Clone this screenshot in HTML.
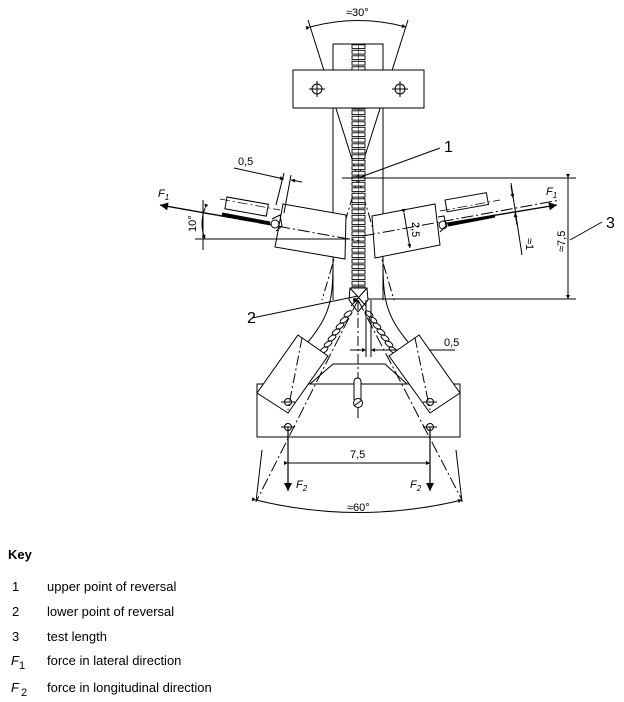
<!DOCTYPE html>
<html><head><meta charset="utf-8"><style>
html,body{margin:0;padding:0;background:#fff;width:624px;height:702px;overflow:hidden}
svg{position:absolute;left:0;top:0}
.k{position:absolute;font-family:"Liberation Sans",Arial,sans-serif;font-size:13px;color:#000}
</style></head><body>
<svg width="624" height="702" viewBox="0 0 624 702" xmlns="http://www.w3.org/2000/svg" font-family="Liberation Sans, sans-serif">
<defs>
<pattern id="teeth" x="351" y="0" width="16" height="5.5" patternUnits="userSpaceOnUse">
<rect x="1" y="0.8" width="13" height="3.8" fill="#fff" stroke="#000" stroke-width="0.9"/>
</pattern>
<marker id="as" viewBox="0 0 10 10" refX="10" refY="5" markerWidth="7" markerHeight="4" orient="auto" markerUnits="userSpaceOnUse"><path d="M0,0L10,5L0,10z" fill="#000"/></marker>
<marker id="ab" viewBox="0 0 10 10" refX="10" refY="5" markerWidth="16" markerHeight="8" orient="auto" markerUnits="userSpaceOnUse"><path d="M0,0L10,5L0,10z" fill="#000"/></marker>
</defs>
<g fill="none" stroke="#000" stroke-width="1">
<line x1="358" y1="178" x2="308" y2="20"/><line x1="358" y1="178" x2="408" y2="20"/>
<line x1="358" y1="178" x2="322" y2="300" stroke-dasharray="10,3,2,3"/><line x1="358" y1="178" x2="394" y2="300" stroke-dasharray="10,3,2,3"/>
<path d="M310,27 Q358,14 406,27" marker-start="url(#as)" marker-end="url(#as)"/>
<path d="M333,300 L333,44 L383,44 L383,300"/>
<path d="M333,262 C333,300 330,315 308,342"/>
<path d="M383,262 C383,300 386,315 408,342"/>
<rect x="351" y="44" width="15" height="250" fill="url(#teeth)" stroke="none"/>
<line x1="358.5" y1="44" x2="358.5" y2="294" stroke-width="0.5"/>
<rect x="293" y="70" width="131" height="38" fill="#fff"/>
<rect x="293" y="70" width="131" height="38"/>
<circle cx="317" cy="89" r="5"/><circle cx="400" cy="89" r="5"/>
<line x1="309" y1="89" x2="325" y2="89"/><line x1="317" y1="81" x2="317" y2="97"/>
<line x1="392" y1="89" x2="408" y2="89"/><line x1="400" y1="81" x2="400" y2="97"/>
<line x1="342" y1="178" x2="576" y2="178"/>
<line x1="368" y1="299" x2="576" y2="299"/>
<line x1="568" y1="178" x2="568" y2="299" marker-start="url(#as)" marker-end="url(#as)"/>
<line x1="358" y1="178" x2="440" y2="148"/>
<line x1="570" y1="240" x2="602" y2="222"/>
<polygon points="283,204 346,215 345,259 275,247" fill="#fff"/>
<line x1="195" y1="239" x2="350" y2="239"/>
<line x1="160" y1="205" x2="360" y2="241" stroke-dasharray="12,3,2,3"/>
<line x1="273" y1="225" x2="160" y2="205" stroke-width="1.3" marker-end="url(#ab)"/>
<rect x="227" y="197" width="42" height="12" transform="rotate(10 227 197)"/>
<line x1="220" y1="199" x2="280" y2="210" stroke-dasharray="10,3,2,3" stroke-width="0.7"/>
<line x1="222" y1="214" x2="270" y2="223" stroke-width="3"/>
<circle cx="275" cy="224" r="4" fill="#fff"/>
<path d="M272,219 L280,215 L282,226 L276,231"/>
<line x1="203" y1="200" x2="203" y2="250"/>
<path d="M205,208 Q199,224 205,239" marker-start="url(#as)" marker-end="url(#as)"/>
<line x1="276" y1="205" x2="284" y2="173"/><line x1="284" y1="213" x2="291" y2="175"/>
<line x1="234" y1="168" x2="284" y2="179" marker-end="url(#as)"/>
<line x1="302" y1="182" x2="291" y2="180" marker-end="url(#as)"/>
<polygon points="372,216 435,204 440,245 375,258" fill="#fff"/>
<line x1="363" y1="236" x2="560" y2="200" stroke-dasharray="12,3,2,3"/>
<line x1="442" y1="224" x2="557" y2="205" stroke-width="1.3" marker-end="url(#ab)"/>
<rect x="445" y="200" width="42" height="12" transform="rotate(-10 445 200)" fill="#fff"/>
<line x1="440" y1="211" x2="500" y2="200" stroke-dasharray="10,3,2,3" stroke-width="0.7"/>
<line x1="448" y1="225" x2="495" y2="216" stroke-width="3"/>
<circle cx="443" cy="225" r="4" fill="#fff"/>
<path d="M438,217 L444,216 L446,226 L440,232"/>
<line x1="404" y1="213" x2="410" y2="248" marker-start="url(#as)" marker-end="url(#as)"/>
<line x1="511" y1="183" x2="522" y2="255"/>
<line x1="511" y1="186" x2="513" y2="198" marker-end="url(#as)"/>
<line x1="517" y1="225" x2="515" y2="213" marker-end="url(#as)"/>
<path d="M350,288 L367,288 L368,300 L358,312 L349,300 Z" fill="#fff"/>
<line x1="350" y1="288" x2="366" y2="306"/><line x1="367" y1="288" x2="351" y2="306"/>
<circle cx="355" cy="300" r="1.5" fill="#000"/>
<line x1="358" y1="296" x2="252" y2="318"/>
<g stroke-width="1">
<ellipse cx="348" cy="314" rx="4.5" ry="2.3" transform="rotate(-35 348 314)"/>
<ellipse cx="344" cy="320" rx="4.5" ry="2.3" transform="rotate(-35 344 320)"/>
<ellipse cx="340" cy="326" rx="4.5" ry="2.3" transform="rotate(-35 340 326)"/>
<ellipse cx="336" cy="332" rx="4.5" ry="2.3" transform="rotate(-35 336 332)"/>
<ellipse cx="332" cy="338" rx="4.5" ry="2.3" transform="rotate(-35 332 338)"/>
<ellipse cx="328" cy="344" rx="4.5" ry="2.3" transform="rotate(-35 328 344)"/>
<ellipse cx="324" cy="350" rx="4.5" ry="2.3" transform="rotate(-35 324 350)"/>
<ellipse cx="369" cy="314" rx="4.5" ry="2.3" transform="rotate(35 369 314)"/>
<ellipse cx="373" cy="320" rx="4.5" ry="2.3" transform="rotate(35 373 320)"/>
<ellipse cx="377" cy="326" rx="4.5" ry="2.3" transform="rotate(35 377 326)"/>
<ellipse cx="381" cy="332" rx="4.5" ry="2.3" transform="rotate(35 381 332)"/>
<ellipse cx="385" cy="338" rx="4.5" ry="2.3" transform="rotate(35 385 338)"/>
<ellipse cx="389" cy="344" rx="4.5" ry="2.3" transform="rotate(35 389 344)"/>
<ellipse cx="393" cy="350" rx="4.5" ry="2.3" transform="rotate(35 393 350)"/>
</g>
<line x1="366" y1="300" x2="366" y2="357"/><line x1="371" y1="300" x2="371" y2="357"/>
<line x1="350" y1="350" x2="366" y2="350" marker-end="url(#as)"/>
<line x1="455" y1="350" x2="371" y2="350" marker-end="url(#as)"/>
<rect x="257" y="384" width="203" height="53"/>
<path d="M300,384 L310,384 L333,364 L385,364 L407,384 L417,384"/>
<polygon points="298,335 328,356 288,413 257,393" fill="#fff"/>
<polygon points="419,335 389,356 430,413 460,393" fill="#fff"/>
<line x1="358" y1="300" x2="257" y2="500" stroke-dasharray="12,3,2,3"/>
<line x1="358" y1="300" x2="462" y2="500" stroke-dasharray="12,3,2,3"/>
<line x1="302" y1="338" x2="288" y2="410" stroke-dasharray="10,3,2,3"/>
<line x1="415" y1="338" x2="430" y2="410" stroke-dasharray="10,3,2,3"/>
<line x1="358" y1="300" x2="358" y2="420" stroke-dasharray="10,3,2,3"/>
<rect x="354" y="378" width="7" height="24" rx="3.5" fill="#fff"/>
<circle cx="358" cy="403" r="4.5" fill="#fff"/><line x1="354" y1="406" x2="362" y2="400"/>
<circle cx="288" cy="402" r="3.5"/><circle cx="430" cy="402" r="3.5"/>
<circle cx="288" cy="427" r="3.5"/><circle cx="430" cy="427" r="3.5"/>
<line x1="281" y1="402" x2="295" y2="402"/><line x1="423" y1="402" x2="437" y2="402"/>
<line x1="281" y1="427" x2="295" y2="427"/><line x1="423" y1="427" x2="437" y2="427"/>
<line x1="288" y1="427" x2="288" y2="491" stroke-width="1.2" marker-end="url(#ab)"/>
<line x1="430" y1="427" x2="430" y2="491" stroke-width="1.2" marker-end="url(#ab)"/>
<line x1="288" y1="463" x2="430" y2="463" marker-start="url(#as)" marker-end="url(#as)"/>
<line x1="262" y1="450" x2="256" y2="502"/>
<line x1="456" y1="450" x2="462" y2="502"/>
<path d="M256,500 Q358,525 462,500" marker-start="url(#as)" marker-end="url(#as)"/>
</g>
<g font-size="11" fill="#000">
<text x="346" y="16">≈30°</text>
<text x="238" y="165">0,5</text>
<text x="158" y="197" font-style="italic">F<tspan font-size="8" dy="3">1</tspan></text>
<text x="546" y="195" font-style="italic">F<tspan font-size="8" dy="3">1</tspan></text>
<text x="444" y="346">0,5</text>
<text x="350" y="458">7,5</text>
<text x="296" y="488" font-style="italic">F<tspan font-size="8" dy="3">2</tspan></text>
<text x="410" y="488" font-style="italic">F<tspan font-size="8" dy="3">2</tspan></text>
<text x="347" y="511">≈60°</text>
<text transform="translate(196,232) rotate(-90)">10°</text>
<text transform="translate(412,222) rotate(90)">2,5</text>
<text transform="translate(526,238) rotate(90)">≈1</text>
<text transform="translate(565,252) rotate(-90)">≈7,5</text>
</g>
<g font-size="16" fill="#000">
<text x="444" y="152">1</text>
<text x="247" y="323">2</text>
<text x="606" y="228">3</text>
</g>
</svg>
<div class="k" style="left:8px;top:547px;font-weight:bold">Key</div>
<div class="k" style="left:12px;top:579px">1</div><div class="k" style="left:47px;top:579px">upper point of reversal</div>
<div class="k" style="left:12px;top:604px">2</div><div class="k" style="left:47px;top:604px">lower point of reversal</div>
<div class="k" style="left:12px;top:629px">3</div><div class="k" style="left:47px;top:629px">test length</div>
<div class="k" style="left:11px;top:653px;font-style:italic">F<span style="font-style:normal;font-size:11px;position:relative;top:4px">1</span></div><div class="k" style="left:47px;top:653px">force in lateral direction</div>
<div class="k" style="left:11px;top:680px;font-style:italic">F<span style="font-style:normal;font-size:11px;position:relative;top:4px;left:2px">2</span></div><div class="k" style="left:47px;top:680px">force in longitudinal direction</div>
</body></html>
